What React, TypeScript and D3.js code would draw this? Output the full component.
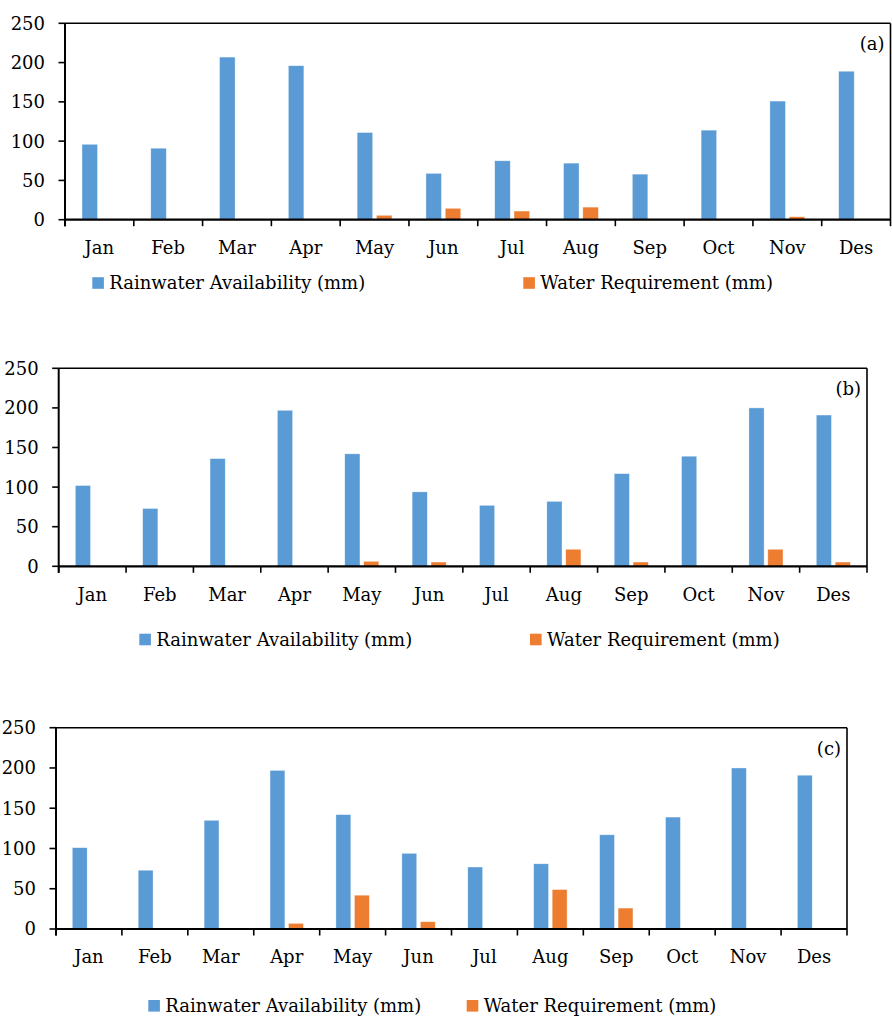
import React from 'react';
import * as d3 from 'd3';

const months = ['Jan', 'Feb', 'Mar', 'Apr', 'May', 'Jun', 'Jul', 'Aug', 'Sep', 'Oct', 'Nov', 'Des'];
const yTicks = [0, 50, 100, 150, 200, 250];

// (a)
const rainA = [96, 91, 207, 196, 111, 59, 75, 72, 58, 114, 151, 189];
const reqA = [0, 0, 0, 0, 5.6, 14.5, 11, 16, 0, 0, 3.8, 0];
// (b)
const rainB = [102, 73, 136, 197, 142, 94, 77, 82, 117, 139, 200, 191];
const reqB = [0, 0, 0, 0, 6.3, 5.4, 0, 21.5, 5.4, 0, 21.5, 5.4];
// (c)
const rainC = [101, 73, 135, 197, 142, 94, 77, 81, 117, 139, 200, 191];
const reqC = [0, 0, 0, 7, 42, 9, 1.2, 49, 26, 0, 0, 0];

const BLUE = '#5B9BD5';
const ORANGE = '#ED7D31';
const FONT = '"DejaVu Serif", serif';
const FS = 18;

interface PanelProps {
  label: string;
  rain: number[];
  req: number[];
  left: number;
  top: number;
  right: number;
  zero: number;
  monthY: number;
  legY: number;
  legBlueX: number;
  legOrangeX: number;
}

const Panel: React.FC<PanelProps> = (p) => {
  const x = d3.scaleBand<string>().domain(months).range([p.left, p.right]);
  const inner = d3.scaleBand<string>()
    .domain(['rain', 'req'])
    .range([0, x.bandwidth()])
    .paddingInner(0.196)
    .paddingOuter(0.88);
  const y = d3.scaleLinear().domain([0, 250]).range([p.zero, p.top]);
  const bw = x.step();

  return (
    <g fontFamily={FONT} fill="#000">
      {/* bars */}
      {months.map((m, i) => (
        <g key={m}>
          <rect x={x(m)! + inner('rain')!} y={y(p.rain[i])} width={inner.bandwidth()}
            height={y(0) - y(p.rain[i])} fill={BLUE} stroke="#fff" strokeWidth={0.6} strokeOpacity={0.6} />
          {p.req[i] > 0 && (
            <rect x={x(m)! + inner('req')!} y={y(p.req[i])} width={inner.bandwidth()}
              height={y(0) - y(p.req[i])} fill={ORANGE} stroke="#fff" strokeWidth={0.6} strokeOpacity={0.6} />
          )}
        </g>
      ))}
      {/* frame */}
      <line x1={p.left} x2={p.right} y1={p.top} y2={p.top} stroke="#000" strokeWidth={1.6} />
      <line x1={p.right} x2={p.right} y1={p.top} y2={p.zero + 6.5} stroke="#000" strokeWidth={1.6} />
      <line x1={p.left} x2={p.left} y1={p.top} y2={p.zero + 6.5} stroke="#000" strokeWidth={2} />
      <line x1={p.left} x2={p.right} y1={p.zero} y2={p.zero} stroke="#000" strokeWidth={2.2} />
      {/* y ticks */}
      {yTicks.map((t) => (
        <g key={t}>
          <line x1={p.left - 6.5} x2={p.left} y1={y(t)} y2={y(t)} stroke="#000" strokeWidth={1.6} />
          <text x={p.left - 20} y={y(t)} dy="0.36em" textAnchor="end" fontSize={FS}>{t}</text>
        </g>
      ))}
      {/* x ticks */}
      {months.map((m) => (
        <line key={m} x1={x(m)!} x2={x(m)!} y1={p.zero} y2={p.zero + 6.5} stroke="#000" strokeWidth={1.6} />
      ))}
      {months.map((m) => (
        <text key={m} x={x(m)! + bw / 2} y={p.monthY} textAnchor="middle" fontSize={FS}>{m}</text>
      ))}
      <text x={p.right - 6} y={p.top + 27} textAnchor="end" fontSize={FS}>{p.label}</text>
      {/* legend */}
      <rect x={p.legBlueX} y={p.legY - 11.8} width={11.6} height={11.6} fill={BLUE} />
      <text x={p.legBlueX + 17} y={p.legY} fontSize={FS}>Rainwater Availability (mm)</text>
      <rect x={p.legOrangeX} y={p.legY - 11.8} width={11.6} height={11.6} fill={ORANGE} />
      <text x={p.legOrangeX + 17} y={p.legY} fontSize={FS}>Water Requirement (mm)</text>
    </g>
  );
};

export default function App() {
  return (
    <svg width={892} height={1016} style={{ position: 'absolute', left: 0, top: 0, background: '#fff' }}>
      <rect width={892} height={1016} fill="#fff" />
      <Panel label="(a)" rain={rainA} req={reqA} left={65} top={23.3} right={890.5} zero={219.7}
        monthY={254} legY={289} legBlueX={92.3} legOrangeX={523.3} />
      <Panel label="(b)" rain={rainB} req={reqB} left={58.7} top={368.3} right={867} zero={566.3}
        monthY={601} legY={645.5} legBlueX={139.3} legOrangeX={530} />
      <Panel label="(c)" rain={rainC} req={reqC} left={56} top={727.7} right={847} zero={929}
        monthY={963.3} legY={1011.8} legBlueX={148.3} legOrangeX={466.7} />
    </svg>
  );
}
